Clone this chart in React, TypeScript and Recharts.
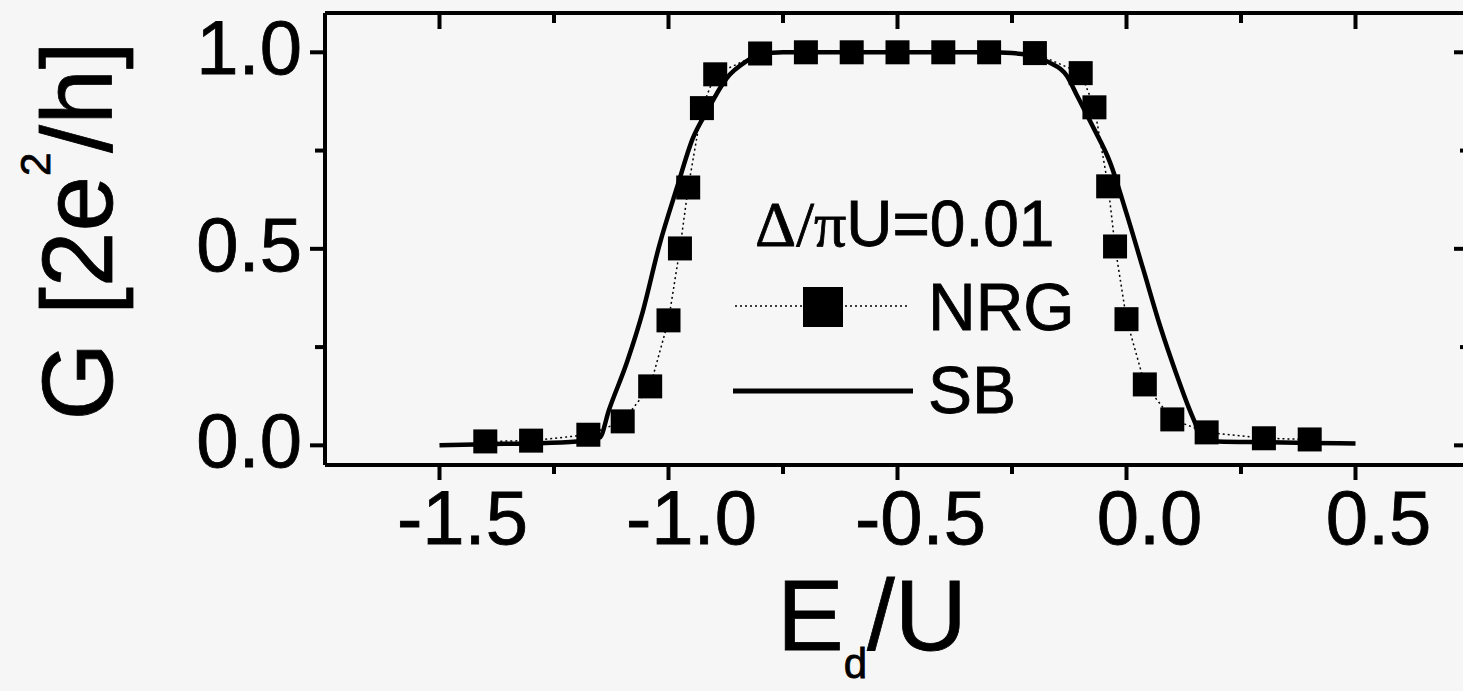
import { LineChart, Line, XAxis, YAxis } from "recharts";

// NRG points (E_d/U, G in units of 2e^2/h)
const nrgX = [
  -1.4, -1.3, -1.175, -1.1, -1.04, -1.0, -0.975, -0.957, -0.927, -0.898, -0.8,
  -0.7, -0.6, -0.5, -0.4, -0.3, -0.2, -0.1, -0.07, -0.04, -0.025, 0.0, 0.04,
  0.1, 0.175, 0.3, 0.4,
];
const nrgG = [
  0.01, 0.012, 0.027, 0.061, 0.15, 0.318, 0.501, 0.656, 0.858, 0.944, 0.997,
  1.0, 1.0, 1.0, 1.0, 1.0, 0.998, 0.947, 0.86, 0.659, 0.506, 0.321, 0.155,
  0.066, 0.033, 0.018, 0.015,
];

// slave boson curve
const sbX = [
  -1.5, -1.4, -1.3, -1.2, -1.15, -1.13, -1.09, -1.056, -1.02, -0.982, -0.947,
  -0.916, -0.873, -0.83, -0.8, -0.75, -0.7, -0.6, -0.5, -0.4, -0.3, -0.25,
  -0.2, -0.17, -0.13, -0.108, -0.073, -0.036, 0.0, 0.036, 0.073, 0.11, 0.139,
  0.15, 0.16, 0.2, 0.3, 0.4, 0.5,
];
const sbG = [
  0.0, 0.003, 0.005, 0.01, 0.02, 0.09, 0.214, 0.341, 0.509, 0.654, 0.781,
  0.85, 0.934, 0.977, 0.995, 1.0, 1.0, 1.0, 1.0, 1.0, 1.0, 0.998, 0.99, 0.975,
  0.94, 0.89, 0.81, 0.72, 0.59, 0.45, 0.305, 0.178, 0.087, 0.056, 0.02, 0.01,
  0.008, 0.006, 0.005,
];

const xMajor = [-1.5, -1.0, -0.5, 0.0, 0.5];
const xMinor = [-1.25, -0.75, -0.25, 0.25];
const yMajor = [0.0, 0.5, 1.0];
const yMinor = [0.25, 0.75];

const nrgData = nrgX.map((x, i) => ({ x, g: nrgG[i] }));
const sbData = sbX.map((x, i) => ({ x, g: sbG[i] }));
const xTicks = [...xMajor, ...xMinor].sort((a, b) => a - b);
const yTicks = [...yMajor, ...yMinor].sort((a, b) => a - b);

const FONT = "'Liberation Sans', Arial, Helvetica, sans-serif";
const SERIF = "'Liberation Serif', 'Times New Roman', serif";
const INK = "#000";
const BG = "#f6f6f6";
// scanned print looks a touch heavier than the plain font
const txt = { fontFamily: FONT, fill: INK, stroke: INK, strokeWidth: 0.8 };

const BottomTick = (props: any) => {
  const { x, y, payload } = props;
  const major = xMajor.includes(payload.value);
  return (
    <g>
      <line x1={x} x2={x} y1={y} y2={y + (major ? 15 : 9)} stroke={INK} strokeWidth={4} />
      {major && (
        <text x={x + 23} y={y + 79} textAnchor="middle" fontSize={76} {...txt}>
          {payload.value.toFixed(1)}
        </text>
      )}
    </g>
  );
};

const TopTick = (props: any) => {
  const { x, y, payload } = props;
  const major = xMajor.includes(payload.value);
  return <line x1={x} x2={x} y1={y} y2={y + (major ? 16 : 10)} stroke={INK} strokeWidth={4} />;
};

const LeftTick = (props: any) => {
  const { x, y, payload } = props;
  const major = yMajor.includes(payload.value);
  return (
    <g>
      <line x1={x - (major ? 15 : 10)} x2={x} y1={y} y2={y} stroke={INK} strokeWidth={4} />
      {major && (
        <text x={x - 23} y={y + 22} textAnchor="end" fontSize={76} {...txt}>
          {payload.value.toFixed(1)}
        </text>
      )}
    </g>
  );
};

const RightTick = (props: any) => {
  const { x, y, payload } = props;
  const major = yMajor.includes(payload.value);
  return <line x1={x - (major ? 16 : 10)} x2={x} y1={y} y2={y} stroke={INK} strokeWidth={4} />;
};

const Square = (props: any) => {
  const { cx, cy, index } = props;
  if (cx == null || cy == null) return <g key={`sq-${index}`} />;
  return <rect key={`sq-${index}`} x={cx - 12} y={cy - 12} width={24} height={24} fill={INK} />;
};

export default function App() {
  return (
    <div
      style={{
        position: "fixed",
        left: 0,
        top: 0,
        width: 1463,
        height: 691,
        overflow: "hidden",
        background: BG,
      }}
    >
      <LineChart
        width={1480}
        height={691}
        margin={{ top: 3, right: 0, bottom: 126, left: 225 }}
      >
        <XAxis
          dataKey="x"
          type="number"
          domain={[-1.75, 0.75]}
          ticks={xTicks}
          interval={0}
          allowDataOverflow
          height={100}
          tickSize={0}
          tickMargin={0}
          tickLine={false}
          axisLine={{ stroke: INK, strokeWidth: 4 }}
          tick={<BottomTick />}
        />
        <XAxis
          xAxisId="top"
          orientation="top"
          dataKey="x"
          type="number"
          domain={[-1.75, 0.75]}
          ticks={xTicks}
          interval={0}
          allowDataOverflow
          height={10}
          tickSize={0}
          tickMargin={0}
          tickLine={false}
          axisLine={{ stroke: INK, strokeWidth: 4 }}
          tick={<TopTick />}
        />
        <YAxis
          type="number"
          domain={[-0.05, 1.1]}
          ticks={yTicks}
          interval={0}
          allowDataOverflow
          width={100}
          tickSize={0}
          tickMargin={0}
          tickLine={false}
          axisLine={{ stroke: INK, strokeWidth: 4 }}
          tick={<LeftTick />}
        />
        <YAxis
          yAxisId="right"
          orientation="right"
          type="number"
          domain={[-0.05, 1.1]}
          ticks={yTicks}
          interval={0}
          allowDataOverflow
          width={10}
          tickSize={0}
          tickMargin={0}
          tickLine={false}
          axisLine={{ stroke: INK, strokeWidth: 4 }}
          tick={<RightTick />}
        />
        <Line
          data={sbData}
          dataKey="g"
          type="monotone"
          stroke={INK}
          strokeWidth={4.5}
          dot={false}
          isAnimationActive={false}
        />
        <Line
          data={nrgData}
          dataKey="g"
          type="linear"
          stroke={INK}
          strokeWidth={1.5}
          strokeDasharray="2 3"
          dot={Square}
          isAnimationActive={false}
        />
      </LineChart>

      <svg
        width={1463}
        height={691}
        style={{ position: "absolute", left: 0, top: 0, pointerEvents: "none" }}
      >
        {/* axis titles */}
        <text
          transform="translate(112,231) rotate(-90)"
          textAnchor="middle"
          fontSize={100}
          {...txt}
        >
          G [2e
          <tspan fontSize={42} dy={-62}>2</tspan>
          <tspan dy={62}>/h]</tspan>
        </text>
        <text x={777} y={650} fontSize={100} {...txt}>
          E<tspan fontSize={42} dy={28}>d</tspan>
          <tspan dy={-28}>/U</tspan>
        </text>

        {/* legend */}
        <text x={755} y={246} fontSize={64} {...txt}>
          <tspan fontFamily={SERIF}>Δ/π</tspan>U=0.01
        </text>
        <line x1={735} x2={908} y1={306} y2={306} stroke={INK} strokeWidth={1.5} strokeDasharray="2 3" />
        <rect x={803} y={287} width={40} height={40} fill={INK} />
        <text x={928} y={330} fontSize={66} {...txt}>
          NRG
        </text>
        <line x1={733} x2={913} y1={391} y2={391} stroke={INK} strokeWidth={5} />
        <text x={928} y={413} fontSize={66} {...txt}>
          SB
        </text>
      </svg>
    </div>
  );
}
